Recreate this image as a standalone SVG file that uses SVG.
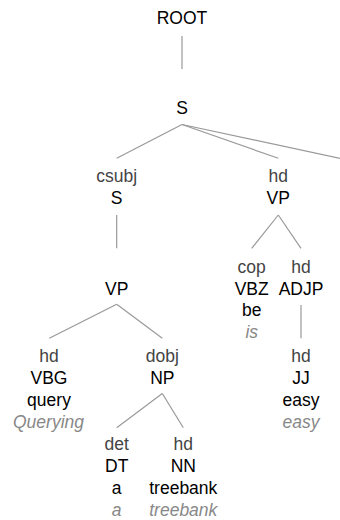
<svg xmlns="http://www.w3.org/2000/svg" width="340" height="520" viewBox="0 0 340 520">
  <style>
    text { font-family: "Liberation Sans", Arial, sans-serif; font-size: 17.5px; text-anchor: middle; }
    .fn { fill: #444444; }
    .cat { fill: #000000; }
    .word { fill: #000000; }
    .gloss { fill: #888888; font-style: italic; }
    .edge { stroke: #999999; stroke-width: 1.2; fill: none; }
  </style>
  <rect width="340" height="520" fill="#ffffff"/>

  <g id="connectors">
    <line class="edge" x1="182" y1="36" x2="182" y2="69"/>
    <line class="edge" x1="182" y1="124.5" x2="116.7" y2="158.3"/>
    <line class="edge" x1="182" y1="124.5" x2="278.3" y2="158.3"/>
    <line class="edge" x1="182" y1="124.5" x2="350" y2="160.5"/>
    <line class="edge" x1="116.7" y1="215" x2="116.7" y2="248.3"/>
    <line class="edge" x1="278.3" y1="215" x2="251.7" y2="248.3"/>
    <line class="edge" x1="278.3" y1="215" x2="301" y2="248.3"/>
    <line class="edge" x1="116.7" y1="304.3" x2="49.3" y2="338.3"/>
    <line class="edge" x1="116.7" y1="304.3" x2="162.3" y2="338.3"/>
    <line class="edge" x1="301" y1="305" x2="301" y2="338.3"/>
    <line class="edge" x1="162.3" y1="393.5" x2="116.7" y2="427.7"/>
    <line class="edge" x1="162.3" y1="393.5" x2="183.3" y2="427.7"/>
  </g>

  <g id="node-root">
    <text class="cat" x="182" y="24.3">ROOT</text>
  </g>
  <g id="node-s">
    <text class="cat" x="182" y="114.3">S</text>
  </g>
  <g id="node-csubj-s">
    <text class="fn" x="116.7" y="181.7">csubj</text>
    <text class="cat" x="116.7" y="203.5">S</text>
  </g>
  <g id="node-hd-vp">
    <text class="fn" x="278.3" y="181.7">hd</text>
    <text class="cat" x="278.3" y="203.5">VP</text>
  </g>
  <g id="node-vp">
    <text class="cat" x="116.7" y="294.5">VP</text>
  </g>
  <g id="node-cop-vbz">
    <text class="fn" x="251.7" y="272.5">cop</text>
    <text class="cat" x="251.7" y="294.5">VBZ</text>
    <text class="word" x="251.7" y="316">be</text>
    <text class="gloss" x="251.7" y="338">is</text>
  </g>
  <g id="node-hd-adjp">
    <text class="fn" x="301" y="272.5">hd</text>
    <text class="cat" x="301" y="294.5">ADJP</text>
  </g>
  <g id="node-hd-vbg">
    <text class="fn" x="49" y="361.7">hd</text>
    <text class="cat" x="49" y="383.5">VBG</text>
    <text class="word" x="49" y="405.5">query</text>
    <text class="gloss" x="48.5" y="427.5">Querying</text>
  </g>
  <g id="node-dobj-np">
    <text class="fn" x="162.3" y="361.7">dobj</text>
    <text class="cat" x="162.3" y="383.5">NP</text>
  </g>
  <g id="node-hd-jj">
    <text class="fn" x="301" y="361.7">hd</text>
    <text class="cat" x="301" y="383.5">JJ</text>
    <text class="word" x="301" y="405.5">easy</text>
    <text class="gloss" x="301" y="427.5">easy</text>
  </g>
  <g id="node-det-dt">
    <text class="fn" x="116.7" y="450">det</text>
    <text class="cat" x="116.7" y="472">DT</text>
    <text class="word" x="116.7" y="494">a</text>
    <text class="gloss" x="116.7" y="516">a</text>
  </g>
  <g id="node-hd-nn">
    <text class="fn" x="183.3" y="450">hd</text>
    <text class="cat" x="183.3" y="472">NN</text>
    <text class="word" x="183.3" y="494">treebank</text>
    <text class="gloss" x="183.3" y="516">treebank</text>
  </g>
</svg>
